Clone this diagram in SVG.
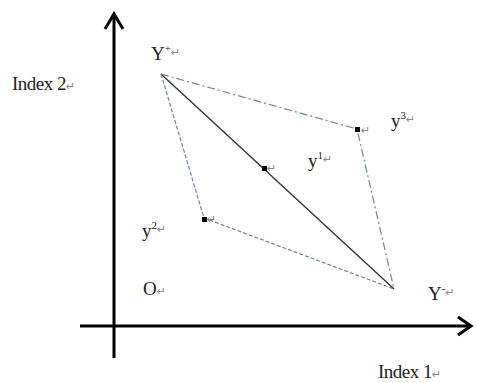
<svg xmlns="http://www.w3.org/2000/svg" width="477" height="383" viewBox="0 0 477 383">
<style>
.t{font-family:"Liberation Serif","Times New Roman",serif;font-size:19px;fill:#222}
.s{font-size:11px}
.r{font-family:"DejaVu Sans",sans-serif;font-size:11px;fill:#888}
.ax{stroke:#000;stroke-width:3;fill:none}
.dd{stroke:#6f84a8;stroke-width:1.2;fill:none;stroke-dasharray:8 3 2 3}
.ds{stroke:#6f84a8;stroke-width:1.2;fill:none;stroke-dasharray:4 2}
.sol{stroke:#333;stroke-width:1.4;fill:none}
.pt{fill:#000}
</style>
<rect width="477" height="383" fill="#fff"/>
<g id="axes">
<line class="ax" x1="114" y1="14" x2="114" y2="358"/>
<polyline class="ax" points="105,29 114,14 123,29"/>
<line class="ax" x1="80" y1="326" x2="471" y2="326"/>
<polyline class="ax" points="458,317 471,326 458,335"/>
</g>
<g id="connectors">
<line class="sol" x1="161" y1="74" x2="394" y2="289"/>
<polyline class="dd" points="161,74 357,129 394,289"/>
<polyline class="ds" points="161,74 204,218 394,289"/>
</g>
<g id="y-plus">
<text class="t" x="151" y="60">Y<tspan class="s" dy="-8">+</tspan><tspan class="r" dy="4">↵</tspan></text>
</g>
<g id="y3">
<rect class="pt" x="355" y="127" width="5" height="5"/>
<text class="r" x="361" y="134">↵</text>
<text class="t" x="391" y="127">y<tspan class="s" dy="-8">3</tspan><tspan class="r" dy="4">↵</tspan></text>
</g>
<g id="y1">
<rect class="pt" x="262" y="166" width="5" height="5"/>
<text class="r" x="267" y="172">↵</text>
<text class="t" x="308" y="167">y<tspan class="s" dy="-8">1</tspan><tspan class="r" dy="4">↵</tspan></text>
</g>
<g id="y2">
<rect class="pt" x="202" y="217" width="5" height="5"/>
<text class="r" x="207" y="223">↵</text>
<text class="t" x="142" y="237">y<tspan class="s" dy="-8">2</tspan><tspan class="r" dy="4">↵</tspan></text>
</g>
<g id="origin">
<text class="t" x="143" y="295">O<tspan class="r">↵</tspan></text>
</g>
<g id="y-minus">
<text class="t" x="428" y="300">Y<tspan class="s" dy="-8">-</tspan><tspan class="r" dy="4">↵</tspan></text>
</g>
<g id="labels">
<text class="t" x="12" y="90" letter-spacing="-0.5">Index 2<tspan class="r">↵</tspan></text>
<text class="t" x="378" y="378" letter-spacing="-0.5">Index 1<tspan class="r">↵</tspan></text>
</g>
</svg>
